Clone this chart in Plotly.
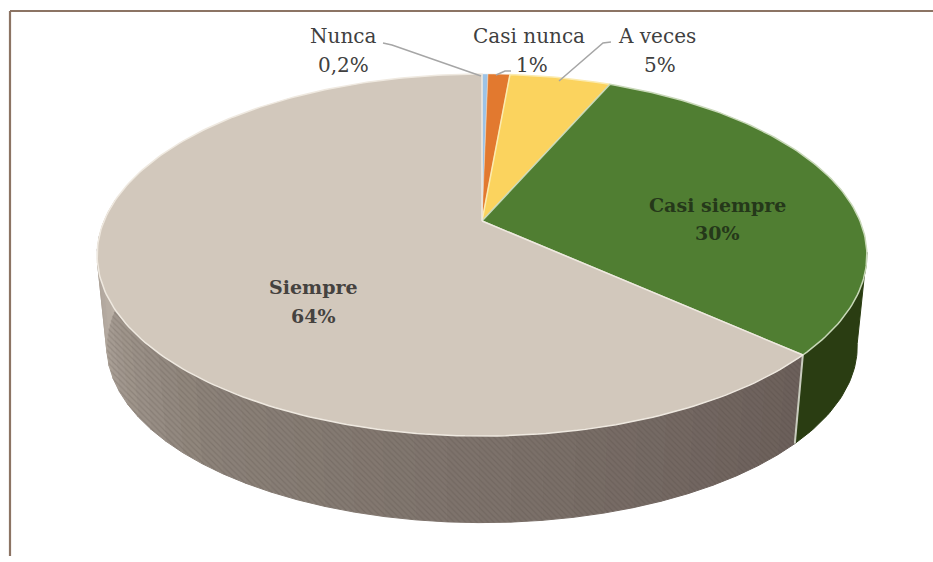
"""Encuesta de frecuencia: pie with a 3D look, drawn as filled scatter polygons."""
import numpy as np
import plotly.graph_objects as go

categories = ["Nunca", "Casi nunca", "A veces", "Casi siempre", "Siempre"]
values = [0.3, 1.1, 5.1, 30.2, 63.3]
value_labels = ["0,2%", "1%", "5%", "30%", "64%"]

top_colors = ["#9DC3E6", "#E2792F", "#FBD35E", "#507E32", "#D2C8BC"]
edge_colors = ["#DCE8F0", "#F0D8C0", "#FBEBB0", "#C8D8B8", "#EFE9E0"]

# perspective of the disc, in picture pixels
CX, CY = 482, 221
RX, RY, K = 378, 174.6, 0.188
DEPTH_Y, DEPTH_SCALE = 92, 0.975

# where the disc edge stops being visible, degrees clockwise from 12 o'clock
WALL_START, WALL_END = 100, 277

fractions = np.cumsum([0] + values) / sum(values)
angles = fractions * 360


def top_xy(deg):
    t = np.radians(deg)
    w = 1 + K * np.cos(t)
    return CX + RX * np.sin(t) / w, CY - RY * np.cos(t) / w


def bottom_xy(deg):
    x, y = top_xy(deg)
    return CX + (x - CX) * DEPTH_SCALE, CY + DEPTH_Y + (y - CY) * DEPTH_SCALE


def wall_outline(a, b):
    ts = np.linspace(a, b, max(4, int(b - a)))
    xt, yt = top_xy(ts)
    xb, yb = bottom_xy(ts[::-1])
    return np.r_[xt, xb, xt[0]], np.r_[yt, yb, yt[0]]


def wall_trace(a, b, color):
    x, y = wall_outline(a, b)
    return go.Scatter(x=x, y=y, mode="lines", line=dict(width=1, color=color),
                      fill="toself", fillcolor=color,
                      hoverinfo="skip", showlegend=False)


def mix(c1, c2, f):
    return "rgb(%d,%d,%d)" % tuple(round(a + (b - a) * f) for a, b in zip(c1, c2))


fig = go.Figure()

# green wall, right side
fig.add_trace(wall_trace(WALL_START, angles[4], "#2A3D12"))

# beige wall, shaded from the dark front right to the pale left
boundaries = np.linspace(angles[4], WALL_END, 37)
for i, (a, b) in enumerate(zip(boundaries[:-1], boundaries[1:])):
    f = i / (len(boundaries) - 2)
    if f < 0.6:
        color = mix((108, 96, 91), (140, 130, 121), f / 0.6)
    else:
        color = mix((140, 130, 121), (190, 180, 170), (f - 0.6) / 0.4)
    fig.add_trace(wall_trace(a, b, color))

# one hatch over the whole beige wall so the stripes line up
hx, hy = wall_outline(angles[4], WALL_END)
fig.add_trace(go.Scatter(
    x=hx, y=hy, mode="none", fill="toself", fillcolor="rgba(0,0,0,0)",
    fillpattern=dict(shape="\\", size=4, solidity=0.3, fgcolor="rgba(60,50,45,0.35)",
                     bgcolor="rgba(0,0,0,0)"),
    hoverinfo="skip", showlegend=False,
))

# divider between the two walls
xa, ya = top_xy(angles[4])
xb, yb = bottom_xy(angles[4])
fig.add_trace(go.Scatter(x=[xa, xb], y=[ya, yb], mode="lines",
                         line=dict(color="#C9CCBE", width=2),
                         hoverinfo="skip", showlegend=False))

# top face
for i, cat in enumerate(categories):
    ts = np.linspace(angles[i], angles[i + 1], max(3, int(angles[i + 1] - angles[i]) + 2))
    x, y = top_xy(ts)
    fig.add_trace(go.Scatter(
        x=np.r_[CX, x, CX],
        y=np.r_[CY, y, CY],
        mode="lines",
        line=dict(color=edge_colors[i], width=1.5 if i > 1 else 0.5),
        fill="toself",
        fillcolor=top_colors[i],
        name=cat,
        text=[value_labels[i]] * (len(x) + 2),
        hovertemplate=cat + ": %{text}<extra></extra>",
        showlegend=False,
    ))

# leader lines
leaders = [
    ([383, 392, 481], [43, 45, 76]),
    ([511, 505, 496], [71, 71, 75]),
    ([611, 603, 559], [42, 43, 81]),
]
for lx, ly in leaders:
    fig.add_trace(go.Scatter(x=lx, y=ly, mode="lines",
                             line=dict(color="#A6A6A6", width=1.5),
                             hoverinfo="skip", showlegend=False))

# text: (category x, y), (value x, y)
name_pos = [(343, 36), (529, 36), (657, 36), (717, 205), (313, 287)]
value_pos = [(343, 65), (532, 65), (660, 65), (717, 233), (313, 316)]
text_colors = ["#404040", "#404040", "#404040", "#25381A", "#45423F"]
annotations = []
for i, cat in enumerate(categories):
    bold = i >= 3
    for txt, (px, py) in ((cat, name_pos[i]), (value_labels[i], value_pos[i])):
        annotations.append(dict(
            x=px, y=py, xref="x", yref="y", text=f"<b>{txt}</b>" if bold else txt,
            showarrow=False, xanchor="center", yanchor="middle",
            font=dict(family="DejaVu Serif", size=19 if bold else 20, color=text_colors[i]),
        ))

# chart frame: only top and left survive in the picture
frame = dict(type="line", xref="x", yref="y", line=dict(color="#8C7464", width=2.2))
shapes = [
    dict(frame, x0=10, x1=933, y0=11, y1=11),
    dict(frame, x0=10, x1=10, y0=11, y1=556),
]

fig.update_layout(
    width=933,
    height=562,
    margin=dict(l=0, r=0, t=0, b=0),
    paper_bgcolor="#FFFFFF",
    plot_bgcolor="#FFFFFF",
    xaxis=dict(range=[0, 933], visible=False, fixedrange=True),
    yaxis=dict(range=[562, 0], visible=False, fixedrange=True),
    annotations=annotations,
    shapes=shapes,
)

fig.write_html("out.html", config={"displayModeBar": False},
               post_script="document.body.style.margin='0';")
